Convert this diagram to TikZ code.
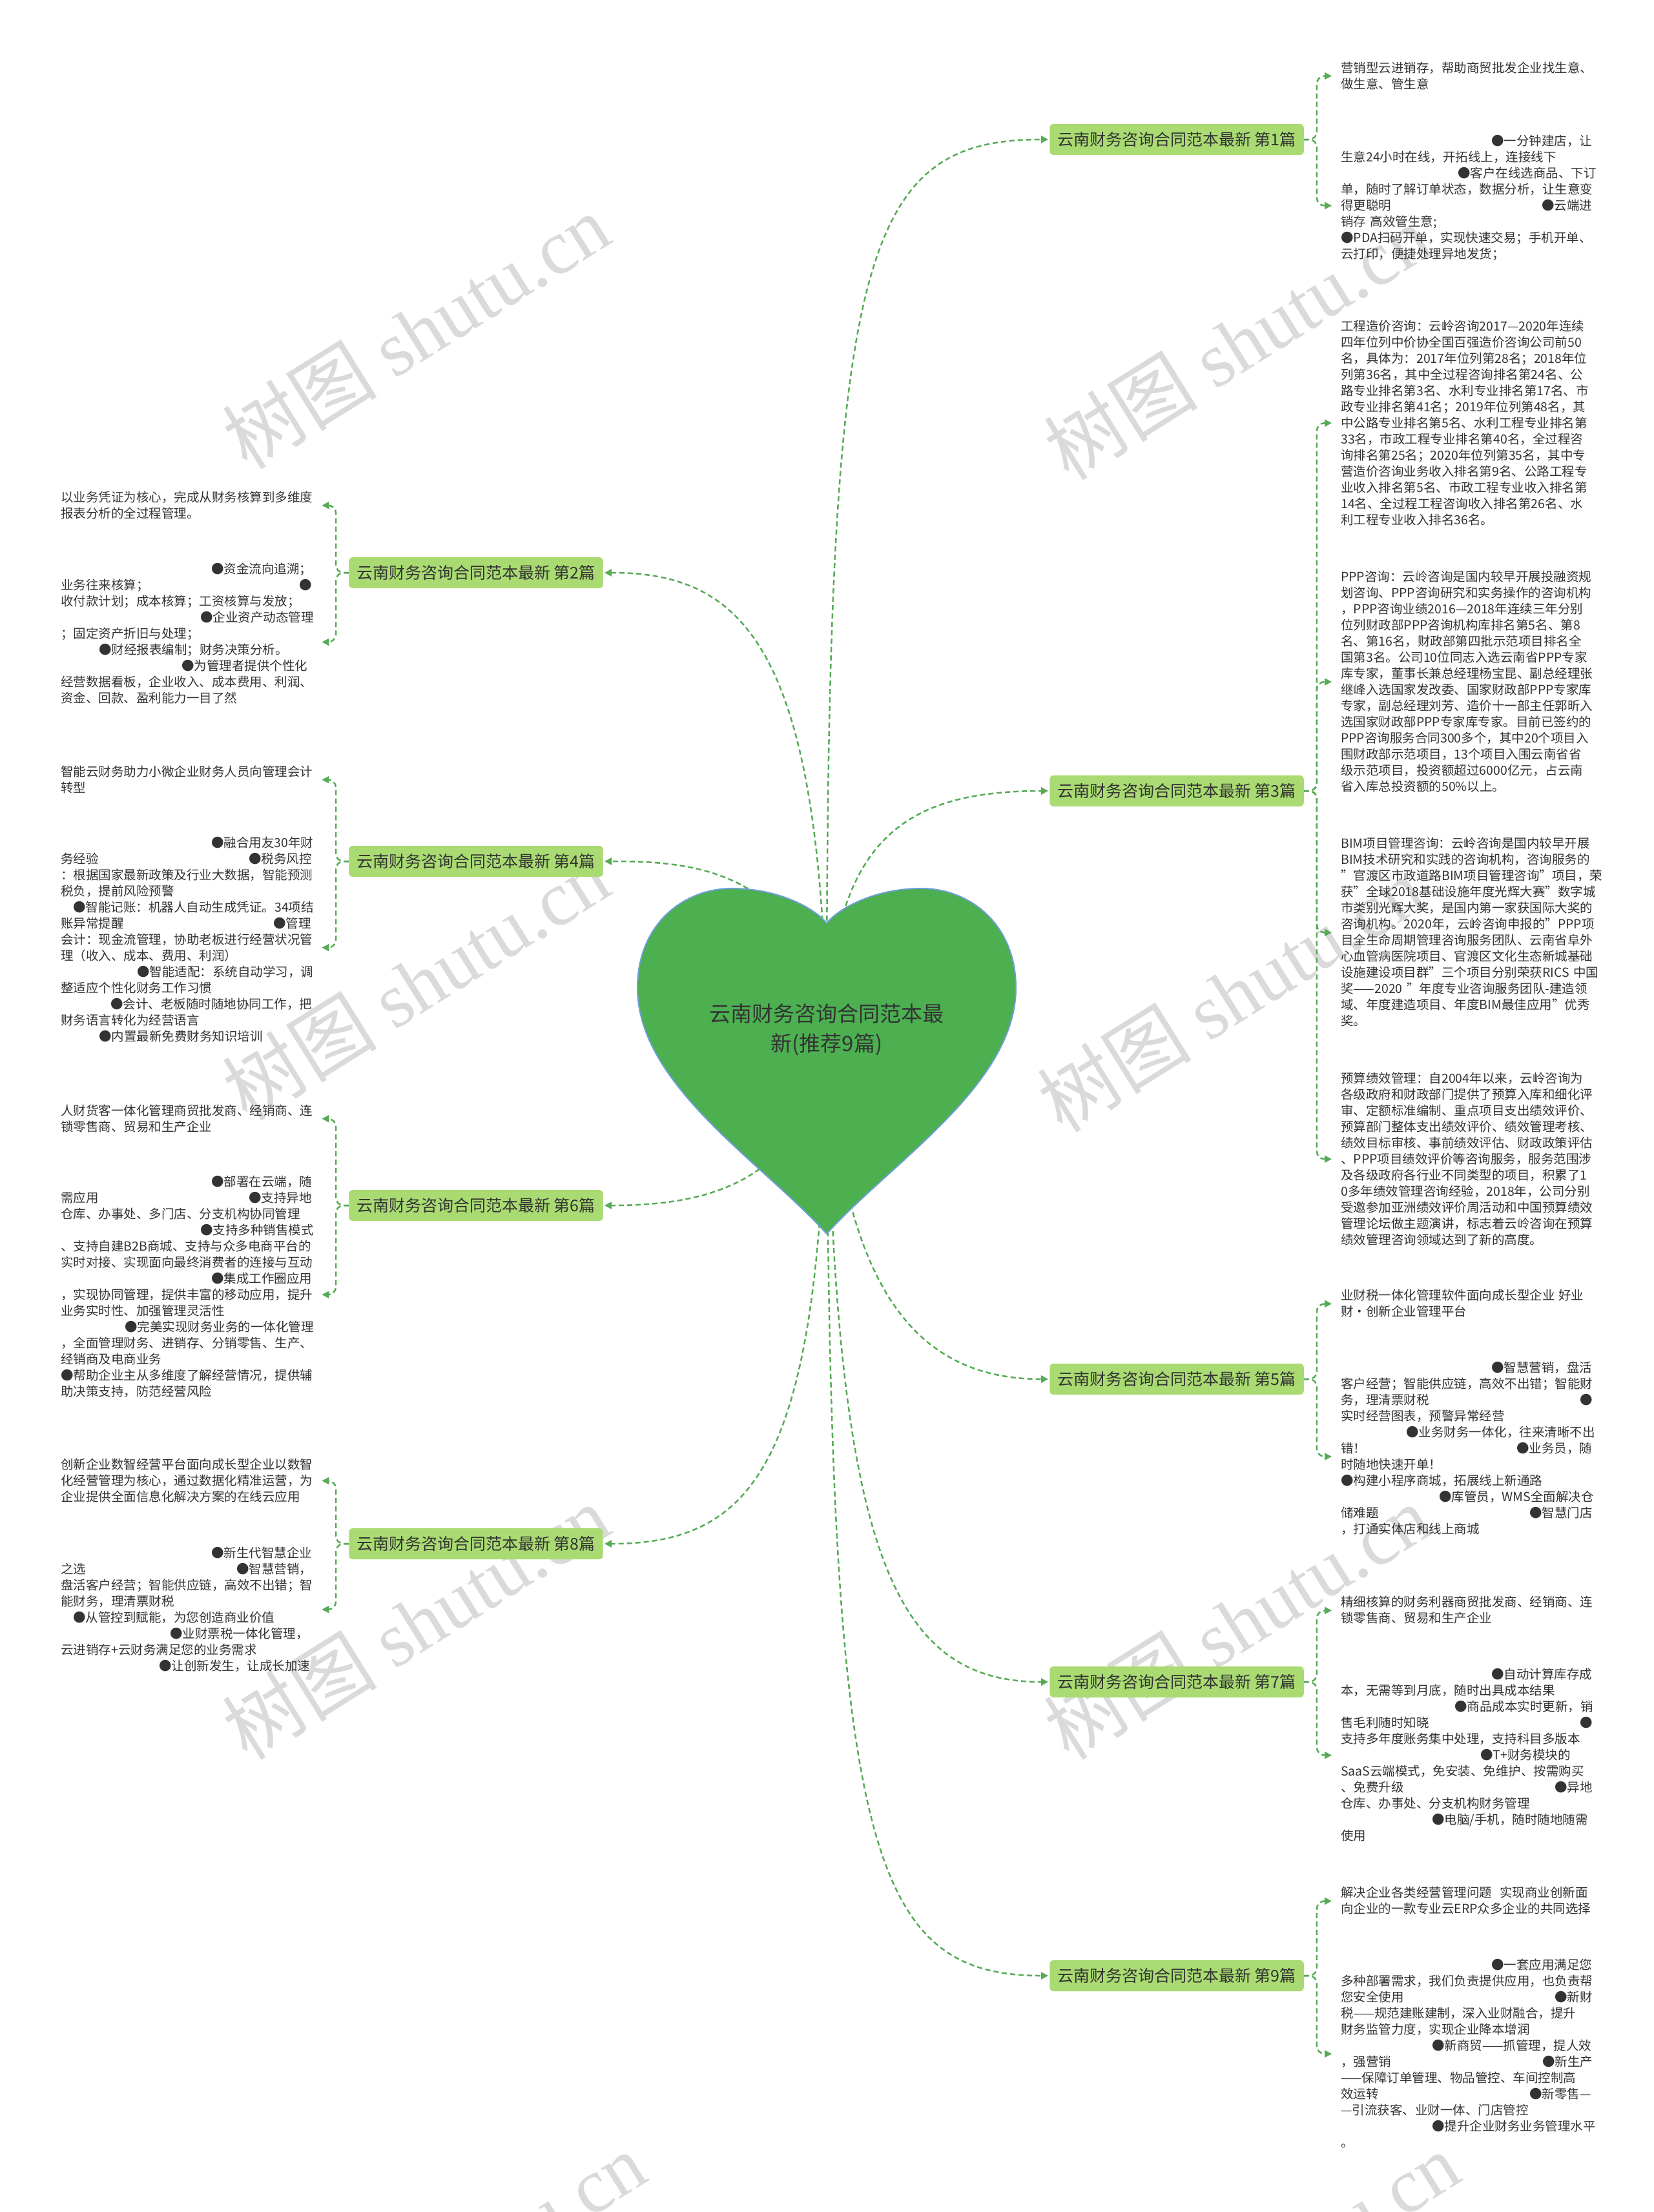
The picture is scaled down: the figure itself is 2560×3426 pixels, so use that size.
\documentclass[tikz,border=0pt]{standalone}
\usepackage{fontspec}
\setmainfont{Noto Sans CJK SC}
\newfontfamily\wmser{Liberation Serif}
\usetikzlibrary{arrows.meta}
\definecolor{ln}{HTML}{56AB56}
\definecolor{hf}{HTML}{4CAF50}
\definecolor{hb}{HTML}{6F9FD8}
\definecolor{bf}{HTML}{A9DB72}
\definecolor{tx}{HTML}{333333}
\definecolor{wm}{HTML}{DADADA}
\pgfdeclarelayer{wmk}
\pgfdeclarelayer{bg}
\pgfsetlayers{wmk,bg,main}
\newcommand\ms{\rule[-5.5pt]{0pt}{25pt}}
\newcommand\sg[2]{\rlap{\hspace*{#1pt}#2}}
\newcommand\Lz[1]{\ms\sg{0}{#1}}
\newcommand\Li[2]{\ms\sg{#1}{#2}}
\begin{document}
\begin{tikzpicture}[x=1pt,y=-1pt,
  br/.style={fill=bf, rounded corners=6pt, minimum height=48pt, inner xsep=12pt, inner ysep=0pt, font=\fontsize{25}{30}\selectfont, text=tx},
  rt/.style={anchor=north west, inner xsep=14pt, inner ysep=0pt, text width=420pt, align=left, font=\fontsize{19.5}{25}\selectfont, text=tx},
  lt/.style={anchor=north west, inner xsep=0pt, inner ysep=0pt, text width=404pt, align=left, font=\fontsize{19.5}{25}\selectfont, text=tx},
  hc/.style={draw=ln, line width=2.5pt, dash pattern=on 8pt off 5pt, -{Triangle[length=11pt,width=11pt]}, shorten >=2pt},
  bc/.style={draw=ln, line width=2.5pt, dash pattern=on 8pt off 5pt, rounded corners=12pt, -{Triangle[length=11pt,width=11pt]}},
  wmt/.style={text=wm, rotate=32, font=\fontsize{120}{130}\selectfont, inner sep=0pt}]
\useasboundingbox (0,0) rectangle (2560,3426);

\begin{pgfonlayer}{wmk}
\fill[white] (0,0) rectangle (2560,3426);
\node[wmt] (w1) at (644,513) {树图 {\wmser shutu.cn}};
\node[wmt] (w2) at (1915,530) {树图 {\wmser shutu.cn}};
\node[wmt] (w3) at (644,1522) {树图 {\wmser shutu.cn}};
\node[wmt] (w4) at (1905,1540) {树图 {\wmser shutu.cn}};
\node[wmt] (w5) at (644,2512) {树图 {\wmser shutu.cn}};
\node[wmt] (w6) at (1915,2512) {树图 {\wmser shutu.cn}};
\node[wmt] (w7) at (700,3515) {树图 {\wmser shutu.cn}};
\node[wmt] (w8) at (1960,3515) {树图 {\wmser shutu.cn}};
\end{pgfonlayer}

% centre text
\node[font=\fontsize{33}{46}\selectfont, text=tx, align=center] (c) at (1280,1595) {云南财务咨询合同范本最\\新(推荐9篇)};

% branch nodes
\node[br] (b1) at (1822,216) {云南财务咨询合同范本最新 第1篇};
\node[br] (b3) at (1822,1225) {云南财务咨询合同范本最新 第3篇};
\node[br] (b5) at (1822,2136) {云南财务咨询合同范本最新 第5篇};
\node[br] (b7) at (1822,2605) {云南财务咨询合同范本最新 第7篇};
\node[br] (b9) at (1822,3060) {云南财务咨询合同范本最新 第9篇};
\node[br] (b2) at (737,887) {云南财务咨询合同范本最新 第2篇};
\node[br] (b4) at (737,1334) {云南财务咨询合同范本最新 第4篇};
\node[br] (b6) at (737,1867) {云南财务咨询合同范本最新 第6篇};
\node[br] (b8) at (737,2391) {云南财务咨询合同范本最新 第8篇};

% right text blocks
\node[rt] (t1a) at (2062,92.5) {\Lz{营销型云进销存，帮助商贸批发企业找生意、}\\\Lz{做生意、管生意}};
\node[rt] (t1b) at (2062,205.8) {\Li{233}{●一分钟建店，让}\\
\Lz{生意24小时在线，开拓线上，连接线下}\\
\Li{181}{●客户在线选商品、下订}\\
\Lz{单，随时了解订单状态，数据分析，让生意变}\\
\Lz{得更聪明}\sg{311}{●云端进}\\
\Lz{销存 高效管生意;}\\
\Lz{●PDA扫码开单，实现快速交易；手机开单、}\\
\Lz{云打印，便捷处理异地发货；}\\
\ms};

\node[rt] (t3a) at (2062,492.5) {\Lz{工程造价咨询：云岭咨询2017—2020年连续}\\
\Lz{四年位列中价协全国百强造价咨询公司前50}\\
\Lz{名，具体为：2017年位列第28名；2018年位}\\
\Lz{列第36名，其中全过程咨询排名第24名、公}\\
\Lz{路专业排名第3名、水利专业排名第17名、市}\\
\Lz{政专业排名第41名；2019年位列第48名，其}\\
\Lz{中公路专业排名第5名、水利工程专业排名第}\\
\Lz{33名，市政工程专业排名第40名，全过程咨}\\
\Lz{询排名第25名；2020年位列第35名，其中专}\\
\Lz{营造价咨询业务收入排名第9名、公路工程专}\\
\Lz{业收入排名第5名、市政工程专业收入排名第}\\
\Lz{14名、全过程工程咨询收入排名第26名、水}\\
\Lz{利工程专业收入排名36名。}};

\node[rt] (t3b) at (2062,880.8) {\Lz{PPP咨询：云岭咨询是国内较早开展投融资规}\\
\Lz{划咨询、PPP咨询研究和实务操作的咨询机构}\\
\Lz{，PPP咨询业绩2016—2018年连续三年分别}\\
\Lz{位列财政部PPP咨询机构库排名第5名、第8}\\
\Lz{名、第16名，财政部第四批示范项目排名全}\\
\Lz{国第3名。公司10位同志入选云南省PPP专家}\\
\Lz{库专家，董事长兼总经理杨宝昆、副总经理张}\\
\Lz{继峰入选国家发改委、国家财政部PPP专家库}\\
\Lz{专家，副总经理刘芳、造价十一部主任郭昕入}\\
\Lz{选国家财政部PPP专家库专家。目前已签约的}\\
\Lz{PPP咨询服务合同300多个，其中20个项目入}\\
\Lz{围财政部示范项目，13个项目入围云南省省}\\
\Lz{级示范项目，投资额超过6000亿元，占云南}\\
\Lz{省入库总投资额的50\%以上。}};

\node[rt] (t3c) at (2062,1294.2) {\Lz{BIM项目管理咨询：云岭咨询是国内较早开展}\\
\Lz{BIM技术研究和实践的咨询机构，咨询服务的}\\
\Lz{"官渡区市政道路BIM项目管理咨询"项目，荣}\\
\Lz{获"全球2018基础设施年度光辉大赛"数字城}\\
\Lz{市类别光辉大奖，是国内第一家获国际大奖的}\\
\Lz{咨询机构。2020年，云岭咨询申报的"PPP项}\\
\Lz{目全生命周期管理咨询服务团队、云南省阜外}\\
\Lz{心血管病医院项目、官渡区文化生态新城基础}\\
\Lz{设施建设项目群"三个项目分别荣获RICS 中国}\\
\Lz{奖——2020 "年度专业咨询服务团队-建造领}\\
\Lz{域、年度建造项目、年度BIM最佳应用"优秀}\\
\Lz{奖。}};

\node[rt] (t3d) at (2062,1657.5) {\Lz{预算绩效管理：自2004年以来，云岭咨询为}\\
\Lz{各级政府和财政部门提供了预算入库和细化评}\\
\Lz{审、定额标准编制、重点项目支出绩效评价、}\\
\Lz{预算部门整体支出绩效评价、绩效管理考核、}\\
\Lz{绩效目标审核、事前绩效评估、财政政策评估}\\
\Lz{、PPP项目绩效评价等咨询服务，服务范围涉}\\
\Lz{及各级政府各行业不同类型的项目，积累了1}\\
\Lz{0多年绩效管理咨询经验，2018年，公司分别}\\
\Lz{受邀参加亚洲绩效评价周活动和中国预算绩效}\\
\Lz{管理论坛做主题演讲，标志着云岭咨询在预算}\\
\Lz{绩效管理咨询领域达到了新的高度。}};

\node[rt] (t5a) at (2062,1994.2) {\Lz{业财税一体化管理软件面向成长型企业}\sg{337}{好业}\\\Lz{财·创新企业管理平台}};
\node[rt] (t5b) at (2062,2105.8) {\Li{233}{●智慧营销，盘活}\\
\Lz{客户经营；智能供应链，高效不出错；智能财}\\
\Lz{务，理清票财税}\sg{370}{●}\\
\Lz{实时经营图表，预警异常经营}\\
\Li{101}{●业务财务一体化，往来清晰不出}\\
\Lz{错！}\sg{272}{●业务员，随}\\
\Lz{时随地快速开单！}\\
\Lz{●构建小程序商城，拓展线上新通路}\\
\Li{152}{●库管员，WMS全面解决仓}\\
\Lz{储难题}\sg{292}{●智慧门店}\\
\Lz{，打通实体店和线上商城}\\
\ms};

\node[rt] (t7a) at (2062,2469.2) {\Lz{精细核算的财务利器商贸批发商、经销商、连}\\\Lz{锁零售商、贸易和生产企业}};
\node[rt] (t7b) at (2062,2580.8) {\Li{233}{●自动计算库存成}\\
\Lz{本，无需等到月底，随时出具成本结果}\\
\Li{176}{●商品成本实时更新，销}\\
\Lz{售毛利随时知晓}\sg{370}{●}\\
\Lz{支持多年度账务集中处理，支持科目多版本}\\
\Li{216}{●T+财务模块的}\\
\Lz{SaaS云端模式，免安装、免维护、按需购买}\\
\Lz{、免费升级}\sg{331}{●异地}\\
\Lz{仓库、办事处、分支机构财务管理}\\
\Li{141}{●电脑/手机，随时随地随需}\\
\Lz{使用}};

\node[rt] (t9a) at (2062,2919.2) {\Lz{解决企业各类经营管理问题}\sg{246}{实现商业创新面}\\\Lz{向企业的一款专业云ERP众多企业的共同选择}};
\node[rt] (t9b) at (2062,3030.8) {\Li{233}{●一套应用满足您}\\
\Lz{多种部署需求，我们负责提供应用，也负责帮}\\
\Lz{您安全使用}\sg{331}{●新财}\\
\Lz{税——规范建账建制，深入业财融合，提升}\\
\Lz{财务监管力度，实现企业降本增润}\\
\Li{141}{●新商贸——抓管理，提人效}\\
\Lz{，强营销}\sg{312}{●新生产}\\
\Lz{——保障订单管理、物品管控、车间控制高}\\
\Lz{效运转}\sg{292}{●新零售—}\\
\Lz{—引流获客、业财一体、门店管控}\\
\Li{141}{●提升企业财务业务管理水平}\\
\Lz{。}};

% left text blocks
\node[lt] (t2a) at (94,757.5) {\Lz{以业务凭证为核心，完成从财务核算到多维度}\\\Lz{报表分析的全过程管理。}};
\node[lt] (t2b) at (94,869.2) {\Li{233}{●资金流向追溯；}\\
\Lz{业务往来核算；}\sg{369}{●}\\
\Lz{收付款计划；成本核算；工资核算与发放；}\\
\Li{216}{●企业资产动态管理}\\
\Lz{；固定资产折旧与处理；}\\
\Li{59}{●财经报表编制；财务决策分析。}\\
\Li{187}{●为管理者提供个性化}\\
\Lz{经营数据看板，企业收入、成本费用、利润、}\\
\Lz{资金、回款、盈利能力一目了然}\\
\ms};

\node[lt] (t4a) at (94,1182.5) {\Lz{智能云财务助力小微企业财务人员向管理会计}\\\Lz{转型}};
\node[lt] (t4b) at (94,1292.5) {\Li{233}{●融合用友30年财}\\
\Lz{务经验}\sg{291}{●税务风控}\\
\Lz{：根据国家最新政策及行业大数据，智能预测}\\
\Lz{税负，提前风险预警}\\
\Li{19}{●智能记账：机器人自动生成凭证。34项结}\\
\Lz{账异常提醒}\sg{329}{●管理}\\
\Lz{会计：现金流管理，协助老板进行经营状况管}\\
\Lz{理（收入、成本、费用、利润）}\\
\Li{118}{●智能适配：系统自动学习，调}\\
\Lz{整适应个性化财务工作习惯}\\
\Li{77}{●会计、老板随时随地协同工作，把}\\
\Lz{财务语言转化为经营语言}\\
\Li{59}{●内置最新免费财务知识培训}\\
\ms};

\node[lt] (t6a) at (94,1707.5) {\Lz{人财货客一体化管理商贸批发商、经销商、连}\\\Lz{锁零售商、贸易和生产企业}};
\node[lt] (t6b) at (94,1817.5) {\Li{233}{●部署在云端，随}\\
\Lz{需应用}\sg{291}{●支持异地}\\
\Lz{仓库、办事处、多门店、分支机构协同管理}\\
\Li{216}{●支持多种销售模式}\\
\Lz{、支持自建B2B商城、支持与众多电商平台的}\\
\Lz{实时对接、实现面向最终消费者的连接与互动}\\
\Li{233}{●集成工作圈应用}\\
\Lz{，实现协同管理，提供丰富的移动应用，提升}\\
\Lz{业务实时性、加强管理灵活性}\\
\Li{99}{●完美实现财务业务的一体化管理}\\
\Lz{，全面管理财务、进销存、分销零售、生产、}\\
\Lz{经销商及电商业务}\\
\Lz{●帮助企业主从多维度了解经营情况，提供辅}\\
\Lz{助决策支持，防范经营风险}\\
\ms};

\node[lt] (t8a) at (94,2255.8) {\Lz{创新企业数智经营平台面向成长型企业以数智}\\\Lz{化经营管理为核心，通过数据化精准运营，为}\\\Lz{企业提供全面信息化解决方案的在线云应用}};
\node[lt] (t8b) at (94,2392.5) {\Li{233}{●新生代智慧企业}\\
\Lz{之选}\sg{272}{●智慧营销，}\\
\Lz{盘活客户经营；智能供应链，高效不出错；智}\\
\Lz{能财务，理清票财税}\\
\Li{19}{●从管控到赋能，为您创造商业价值}\\
\Li{169}{●业财票税一体化管理，}\\
\Lz{云进销存+云财务满足您的业务需求}\\
\Li{152}{●让创新发生，让成长加速}};

\begin{pgfonlayer}{bg}
% heart connectors
\draw[hc] (c.center) .. controls (1280,400) and (1330,216) .. (b1.west);
\draw[hc] (c.center) .. controls (1290,1300) and (1400,1225) .. (b3.west);
\draw[hc] (c.center) .. controls (1300,2000) and (1420,2136) .. (b5.west);
\draw[hc] (c.center) .. controls (1290,2400) and (1380,2605) .. (b7.west);
\draw[hc] (c.center) .. controls (1282,2850) and (1340,3060) .. (b9.west);
\draw[hc] (c.center) .. controls (1270,1000) and (1150,887) .. (b2.east);
\draw[hc] (c.center) .. controls (1250,1340) and (1060,1334) .. (b4.east);
\draw[hc] (c.center) .. controls (1260,1830) and (1100,1867) .. (b6.east);
\draw[hc] (c.center) .. controls (1275,2250) and (1180,2391) .. (b8.east);
% bracket connectors, right
\draw[bc] (b1.east) -- ++(20,0) |- (t1a.west);
\draw[bc] (b1.east) -- ++(20,0) |- (t1b.west);
\draw[bc] (b3.east) -- ++(20,0) |- (t3a.west);
\draw[bc] (b3.east) -- ++(20,0) |- (t3b.west);
\draw[bc] (b3.east) -- ++(20,0) |- (t3c.west);
\draw[bc] (b3.east) -- ++(20,0) |- (t3d.west);
\draw[bc] (b5.east) -- ++(20,0) |- (t5a.west);
\draw[bc] (b5.east) -- ++(20,0) |- (t5b.west);
\draw[bc] (b7.east) -- ++(20,0) |- (t7a.west);
\draw[bc] (b7.east) -- ++(20,0) |- (t7b.west);
\draw[bc] (b9.east) -- ++(20,0) |- (t9a.west);
\draw[bc] (b9.east) -- ++(20,0) |- (t9b.west);
% bracket connectors, left
\draw[bc] (b2.west) -- ++(-20,0) |- (t2a.east);
\draw[bc] (b2.west) -- ++(-20,0) |- (t2b.east);
\draw[bc] (b4.west) -- ++(-20,0) |- (t4a.east);
\draw[bc] (b4.west) -- ++(-20,0) |- (t4b.east);
\draw[bc] (b6.west) -- ++(-20,0) |- (t6a.east);
\draw[bc] (b6.west) -- ++(-20,0) |- (t6b.east);
\draw[bc] (b8.west) -- ++(-20,0) |- (t8a.east);
\draw[bc] (b8.west) -- ++(-20,0) |- (t8b.east);
% heart
\path[fill=hf, draw=hb, line width=2pt] (1280,1911) .. controls (1180,1800) and (987,1680) .. (987,1530)
  .. controls (987,1430) and (1060,1376) .. (1133,1376)
  .. controls (1210,1376) and (1265,1410) .. (1280,1430)
  .. controls (1295,1410) and (1350,1376) .. (1427,1376)
  .. controls (1500,1376) and (1573,1430) .. (1573,1530)
  .. controls (1573,1680) and (1380,1800) .. (1280,1911) -- cycle;
\end{pgfonlayer}
\end{tikzpicture}
\end{document}
